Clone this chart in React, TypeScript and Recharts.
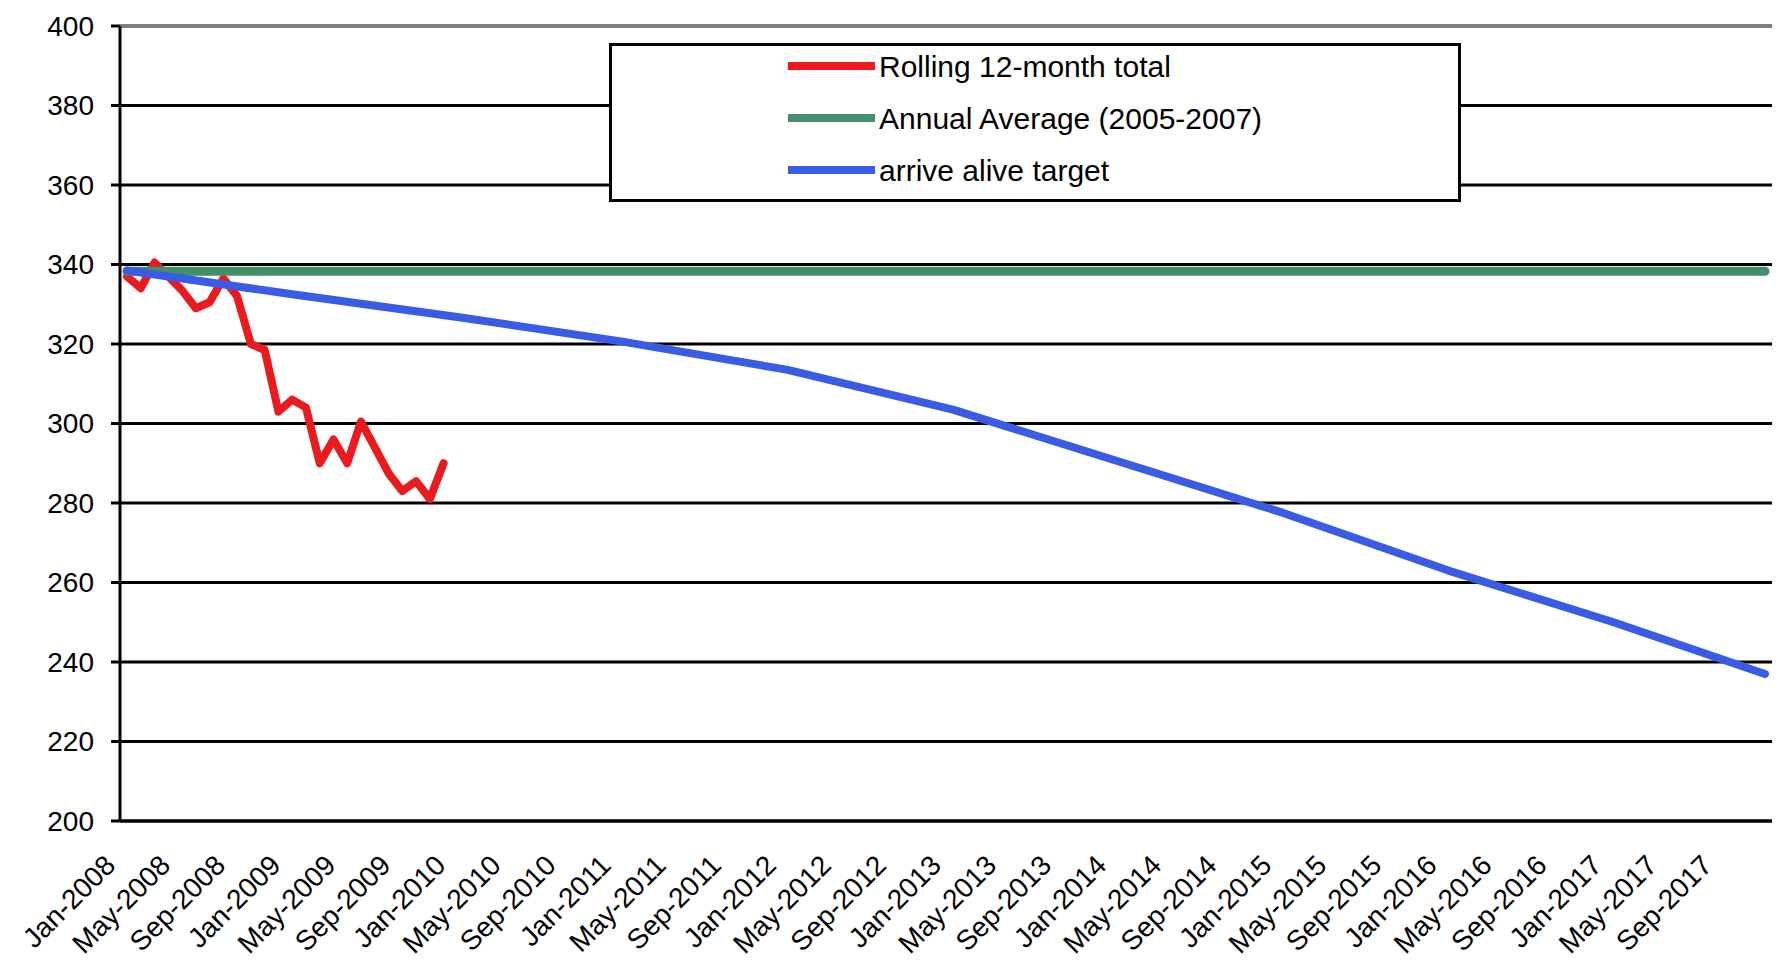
import React from 'react';
import { LineChart, Line, XAxis, YAxis, CartesianGrid, Legend, ReferenceLine } from 'recharts';

const monthNames = ['Jan', 'Feb', 'Mar', 'Apr', 'May', 'Jun', 'Jul', 'Aug', 'Sep', 'Oct', 'Nov', 'Dec'];
const years = [2008, 2009, 2010, 2011, 2012, 2013, 2014, 2015, 2016, 2017];

// Rolling 12-month total, Jan-2008 .. Dec-2009
const rollingTotal = [
  337, 334, 340.5, 337, 333.5, 329, 330.5, 336.5, 332, 320, 318.5, 303,
  306, 304, 290, 296, 290, 300.5, 294, 287.5, 283, 285.5, 281, 290,
];

// Annual average 2005-2007 (constant reference)
const annualAverage = 338.3;

// arrive alive target: values read at Jan of each year, plus Dec-2017
const targetMonths = ['Jan-2008', 'Jan-2009', 'Jan-2010', 'Jan-2011', 'Jan-2012', 'Jan-2013', 'Jan-2014', 'Jan-2015', 'Jan-2016', 'Jan-2017', 'Dec-2017'];
const targetValues = [338.5, 332.5, 326.8, 320.6, 313.5, 303.5, 290.5, 277.5, 263, 250, 237];

const yTicks = [200, 220, 240, 260, 280, 300, 320, 340, 360, 380, 400];

const categories: string[] = [];
years.forEach((y) => monthNames.forEach((m) => categories.push(`${m}-${y}`)));

const data = categories.map((c, i) => {
  const ti = targetMonths.indexOf(c);
  return {
    month: c,
    rolling: i < rollingTotal.length ? rollingTotal[i] : null,
    average: annualAverage,
    target: ti >= 0 ? targetValues[ti] : null,
  };
});

const FONT = '"Liberation Sans", Arial, sans-serif';
const RED = '#EA1A1F';
const GREEN = '#438F6B';
const BLUE = '#3A5BE4';

const XTick = (props: any) => {
  const { x, y, payload } = props;
  const ax = x - 10;
  return (
    <text
      x={ax}
      y={y}
      transform={`rotate(-45 ${ax} ${y})`}
      textAnchor="end"
      fontSize={28}
      fontFamily={FONT}
      fill="#000"
    >
      {payload.value}
    </text>
  );
};

const legendItems = [
  { label: 'Rolling 12-month total', color: RED },
  { label: 'Annual Average (2005-2007)', color: GREEN },
  { label: 'arrive alive target', color: BLUE },
];

const LegendBox = () => (
  <svg width={852} height={159} style={{ display: 'block' }}>
    <rect x={1.5} y={1.5} width={849} height={156} fill="#fff" stroke="#000" strokeWidth={3} />
    {legendItems.map((it, i) => {
      const cy = 23 + i * 52;
      return (
        <g key={it.label}>
          <line x1={179} x2={266} y1={cy} y2={cy} stroke={it.color} strokeWidth={8} />
          <text x={270} y={cy} dominantBaseline="central" fontSize={30} fontFamily={FONT} fill="#000">
            {it.label}
          </text>
        </g>
      );
    })}
  </svg>
);

export default function App() {
  return (
    <div style={{ position: 'absolute', left: 0, top: 0, width: 1780, height: 963, background: '#fff' }}>
      <LineChart width={1780} height={963} data={data} margin={{ top: 26, right: 8, bottom: 0, left: 0 }}>
        <CartesianGrid horizontal vertical={false} stroke="#000" strokeWidth={3} />
        <ReferenceLine y={400} stroke="#808080" strokeWidth={3} />
        <XAxis
          dataKey="month"
          interval={3}
          height={142}
          padding={{ left: 7, right: 7 }}
          tickLine={false}
          tickSize={0}
          tickMargin={46}
          axisLine={{ stroke: '#000', strokeWidth: 3 }}
          tick={<XTick />}
        />
        <YAxis
          domain={[200, 400]}
          ticks={yTicks}
          width={120}
          tickSize={9}
          tickMargin={17}
          axisLine={{ stroke: '#000', strokeWidth: 3 }}
          tickLine={{ stroke: '#000', strokeWidth: 3 }}
          tick={{ fontSize: 28, fontFamily: FONT, fill: '#000' }}
          interval={0}
        />
        <Legend
          layout="vertical"
          align="center"
          verticalAlign="middle"
          wrapperStyle={{ left: 609, top: 43, width: 852, height: 159 }}
          content={<LegendBox />}
        />
        <Line
          dataKey="rolling"
          stroke={RED}
          strokeWidth={8}
          dot={false}
          strokeLinejoin="round"
          strokeLinecap="round"
          isAnimationActive={false}
          connectNulls={false}
        />
        <Line
          dataKey="average"
          stroke={GREEN}
          strokeWidth={9}
          dot={false}
          strokeLinecap="round"
          isAnimationActive={false}
        />
        <Line
          dataKey="target"
          stroke={BLUE}
          strokeWidth={8}
          dot={false}
          strokeLinejoin="round"
          strokeLinecap="round"
          connectNulls
          isAnimationActive={false}
        />
      </LineChart>
    </div>
  );
}
